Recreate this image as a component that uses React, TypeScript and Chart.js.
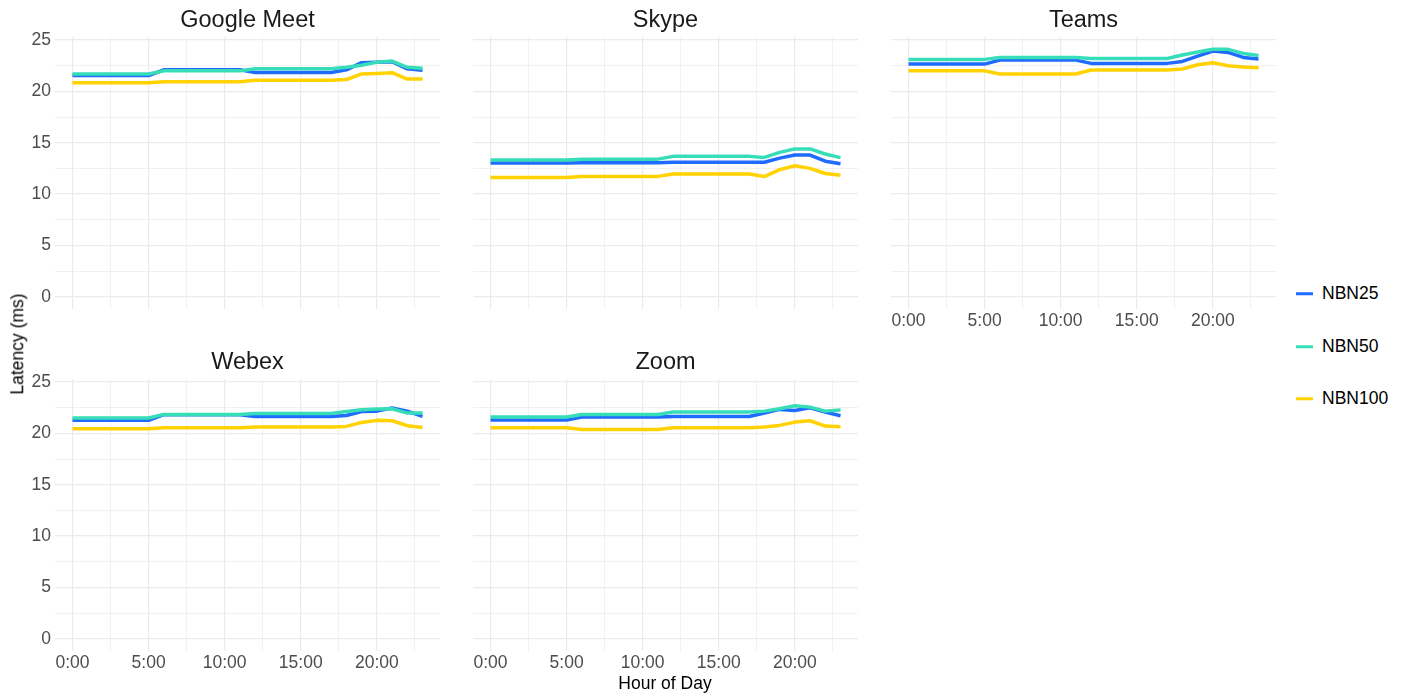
import React, { useEffect, useRef } from 'react';
import { Chart, registerables } from 'chart.js';

Chart.register(...registerables);

const FONT = '"Liberation Sans", Arial, Helvetica, sans-serif';

// ---------- DATA ----------
const hours = [0, 1, 2, 3, 4, 5, 6, 7, 8, 9, 10, 11, 12, 13, 14, 15, 16, 17, 18, 19, 20, 21, 22, 23];
const seriesNames = ['NBN25', 'NBN50', 'NBN100'];
const seriesColors = ['#1f6bff', '#36ddb8', '#ffd200'];
const xTickValues = [0, 2.5, 5, 7.5, 10, 12.5, 15, 17.5, 20, 22.5];
const yTickValues = [0, 2.5, 5, 7.5, 10, 12.5, 15, 17.5, 20, 22.5, 25];

const googleMeetNBN25 = [21.55, 21.55, 21.55, 21.55, 21.55, 21.55, 22.1, 22.1, 22.1, 22.1, 22.1, 22.1, 21.85, 21.85, 21.85, 21.85, 21.85, 21.85, 22.1, 22.8, 22.85, 22.9, 22.2, 22.05];
const googleMeetNBN50 = [21.7, 21.7, 21.7, 21.7, 21.7, 21.7, 22.0, 22.0, 22.0, 22.0, 22.0, 22.0, 22.2, 22.2, 22.2, 22.2, 22.2, 22.2, 22.35, 22.55, 22.85, 22.95, 22.35, 22.25];
const googleMeetNBN100 = [20.85, 20.85, 20.85, 20.85, 20.85, 20.85, 20.93, 20.93, 20.93, 20.93, 20.93, 20.93, 21.08, 21.08, 21.08, 21.08, 21.08, 21.08, 21.15, 21.7, 21.75, 21.82, 21.2, 21.2];

const skypeNBN25 = [13.02, 13.02, 13.02, 13.02, 13.02, 13.02, 13.05, 13.05, 13.05, 13.05, 13.05, 13.05, 13.1, 13.1, 13.1, 13.1, 13.1, 13.1, 13.1, 13.5, 13.8, 13.8, 13.2, 12.95];
const skypeNBN50 = [13.31, 13.31, 13.31, 13.31, 13.31, 13.31, 13.4, 13.4, 13.4, 13.4, 13.4, 13.4, 13.67, 13.67, 13.67, 13.67, 13.67, 13.67, 13.57, 14.06, 14.4, 14.4, 13.9, 13.55];
const skypeNBN100 = [11.6, 11.6, 11.6, 11.6, 11.6, 11.6, 11.72, 11.72, 11.72, 11.72, 11.72, 11.72, 11.95, 11.95, 11.95, 11.95, 11.95, 11.95, 11.7, 12.37, 12.76, 12.5, 12.0, 11.82];

const teamsNBN25 = [22.66, 22.66, 22.66, 22.66, 22.66, 22.66, 23.05, 23.05, 23.05, 23.05, 23.05, 23.05, 22.73, 22.73, 22.73, 22.73, 22.73, 22.73, 22.92, 23.44, 23.93, 23.8, 23.31, 23.15];
const teamsNBN50 = [23.12, 23.12, 23.12, 23.12, 23.12, 23.12, 23.31, 23.31, 23.31, 23.31, 23.31, 23.31, 23.21, 23.21, 23.21, 23.21, 23.21, 23.21, 23.54, 23.83, 24.1, 24.1, 23.7, 23.5];
const teamsNBN100 = [22.0, 22.0, 22.0, 22.0, 22.0, 22.0, 21.69, 21.69, 21.69, 21.69, 21.69, 21.69, 22.08, 22.08, 22.08, 22.08, 22.08, 22.08, 22.18, 22.6, 22.79, 22.5, 22.37, 22.3];

const webexNBN25 = [21.27, 21.27, 21.27, 21.27, 21.27, 21.27, 21.82, 21.82, 21.82, 21.82, 21.82, 21.82, 21.65, 21.65, 21.65, 21.65, 21.65, 21.65, 21.75, 22.14, 22.17, 22.47, 22.17, 21.65];
const webexNBN50 = [21.5, 21.5, 21.5, 21.5, 21.5, 21.5, 21.85, 21.85, 21.85, 21.85, 21.85, 21.85, 21.95, 21.95, 21.95, 21.95, 21.95, 21.95, 22.14, 22.3, 22.37, 22.4, 21.98, 21.98];
const webexNBN100 = [20.45, 20.45, 20.45, 20.45, 20.45, 20.45, 20.55, 20.55, 20.55, 20.55, 20.55, 20.55, 20.62, 20.62, 20.62, 20.62, 20.62, 20.62, 20.68, 21.07, 21.27, 21.23, 20.75, 20.58];

const zoomNBN25 = [21.3, 21.3, 21.3, 21.3, 21.3, 21.3, 21.6, 21.6, 21.6, 21.6, 21.6, 21.6, 21.65, 21.65, 21.65, 21.65, 21.65, 21.65, 21.98, 22.34, 22.24, 22.5, 22.08, 21.72];
const zoomNBN50 = [21.6, 21.6, 21.6, 21.6, 21.6, 21.6, 21.85, 21.85, 21.85, 21.85, 21.85, 21.85, 22.08, 22.08, 22.08, 22.08, 22.08, 22.08, 22.17, 22.4, 22.7, 22.56, 22.17, 22.27];
const zoomNBN100 = [20.55, 20.55, 20.55, 20.55, 20.55, 20.55, 20.39, 20.39, 20.39, 20.39, 20.39, 20.39, 20.55, 20.55, 20.55, 20.55, 20.55, 20.55, 20.62, 20.78, 21.1, 21.23, 20.71, 20.65];

const panelTitles = ['Google Meet', 'Skype', 'Teams', 'Webex', 'Zoom'];
const panelSeries = [
  [googleMeetNBN25, googleMeetNBN50, googleMeetNBN100],
  [skypeNBN25, skypeNBN50, skypeNBN100],
  [teamsNBN25, teamsNBN50, teamsNBN100],
  [webexNBN25, webexNBN50, webexNBN100],
  [zoomNBN25, zoomNBN50, zoomNBN100],
];

// ---------- LAYOUT ----------
const COL_L = [55, 473, 891];
const ROW_T = [37, 379];
const PW = 385;
const PH = 272;
const X_MIN = -1.15;
const X_MAX = 24.15;
const Y_MIN = -1.2;
const Y_MAX = 25.3;

type PanelProps = {
  title: string;
  values: number[][];
  left: number;
  top: number;
  showY: boolean;
  showX: boolean;
};

function Panel({ title, values, left, top, showY, showX }: PanelProps) {
  const ref = useRef<HTMLCanvasElement>(null);
  const padL = showY ? 55 : 14;
  const padT = 36;
  const padB = showX ? 32 : 16;
  const width = padL + PW;
  const height = padT + PH + padB;

  useEffect(() => {
    if (!ref.current) return;
    const gridWidth = (ctx: any) => (ctx.tick && ctx.tick.value % 5 === 0 ? 1.2 : 0.7);
    const chart = new Chart(ref.current, {
      type: 'line',
      data: {
        datasets: values.map((vals, i) => ({
          label: seriesNames[i],
          data: hours.map((h, j) => ({ x: h, y: vals[j] })),
          borderColor: seriesColors[i],
          backgroundColor: seriesColors[i],
          borderWidth: 3.5,
          pointRadius: 0,
          tension: 0,
          borderJoinStyle: 'round' as const,
          borderCapStyle: 'butt' as const,
          order: 3 - i,
          fill: false,
        })),
      },
      options: {
        animation: false,
        responsive: false,
        maintainAspectRatio: false,
        events: [],
        layout: { padding: 0, autoPadding: false },
        plugins: {
          legend: { display: false },
          tooltip: { enabled: false },
          title: {
            display: true,
            text: title,
            fullSize: false,
            color: '#1a1a1a',
            font: { family: FONT, size: 23.5, weight: 'normal', lineHeight: 1.2 },
            padding: { top: 5.8, bottom: 36 - 28.2 - 5.8 },
          },
        },
        scales: {
          x: {
            type: 'linear',
            min: X_MIN,
            max: X_MAX,
            afterBuildTicks: (scale: any) => {
              scale.ticks = xTickValues.map((v) => ({ value: v }));
            },
            afterFit: (scale: any) => {
              scale.height = padB;
            },
            border: { display: false },
            grid: { color: '#ebebeb', lineWidth: gridWidth, drawTicks: false },
            ticks: {
              display: showX,
              autoSkip: false,
              maxRotation: 0,
              padding: 2,
              color: '#4d4d4d',
              font: { family: FONT, size: 17.5 },
              callback: (v: any) => (Number(v) % 5 === 0 ? `${v}:00` : ''),
            },
          },
          y: {
            type: 'linear',
            min: Y_MIN,
            max: Y_MAX,
            afterBuildTicks: (scale: any) => {
              scale.ticks = yTickValues.map((v) => ({ value: v }));
            },
            afterFit: (scale: any) => {
              scale.width = padL;
            },
            border: { display: false },
            grid: { color: '#ebebeb', lineWidth: gridWidth, drawTicks: false },
            ticks: {
              display: showY,
              autoSkip: false,
              padding: 4,
              color: '#4d4d4d',
              font: { family: FONT, size: 17.5 },
              callback: (v: any) => (Number(v) % 5 === 0 ? `${v}` : ''),
            },
          },
        },
      },
    } as any);
    return () => chart.destroy();
  }, []);

  return (
    <canvas
      ref={ref}
      width={width}
      height={height}
      style={{ position: 'absolute', left: left - padL, top: top - padT, width, height }}
    />
  );
}

export default function App() {
  const positions = [
    { c: 0, r: 0 },
    { c: 1, r: 0 },
    { c: 2, r: 0 },
    { c: 0, r: 1 },
    { c: 1, r: 1 },
  ];
  return (
    <div
      style={{
        position: 'absolute',
        left: 0,
        top: 0,
        width: 1405,
        height: 696,
        background: '#ffffff',
        overflow: 'hidden',
        fontFamily: FONT,
      }}
    >
      {panelTitles.map((t, i) => {
        const p = positions[i];
        return (
          <Panel
            key={t}
            title={t}
            values={panelSeries[i]}
            left={COL_L[p.c]}
            top={ROW_T[p.r]}
            showY={p.c === 0}
            showX={p.r === 1 || p.c === 2}
          />
        );
      })}
      <div
        style={{
          position: 'absolute',
          left: 17.5,
          top: 343.5,
          transform: 'translate(-50%, -50%) rotate(-90deg)',
          whiteSpace: 'nowrap',
          fontSize: 17.5,
          fontWeight: 400,
          color: '#000',
          lineHeight: 1,
        }}
      >
        Latency (ms)
      </div>
      <div
        style={{
          position: 'absolute',
          left: 665,
          top: 684,
          transform: 'translate(-50%, -50%)',
          whiteSpace: 'nowrap',
          fontSize: 17.5,
          color: '#000',
          lineHeight: 1,
        }}
      >
        Hour of Day
      </div>
      {seriesNames.map((n, i) => (
        <div
          key={n}
          style={{
            position: 'absolute',
            left: 1296,
            top: [294, 347, 399][i],
            transform: 'translateY(-50%)',
            display: 'flex',
            alignItems: 'center',
            whiteSpace: 'nowrap',
          }}
        >
          <span style={{ display: 'inline-block', width: 17, height: 3.3, background: seriesColors[i] }} />
          <span style={{ marginLeft: 9, fontSize: 17.5, color: '#000', lineHeight: 1 }}>{n}</span>
        </div>
      ))}
    </div>
  );
}
